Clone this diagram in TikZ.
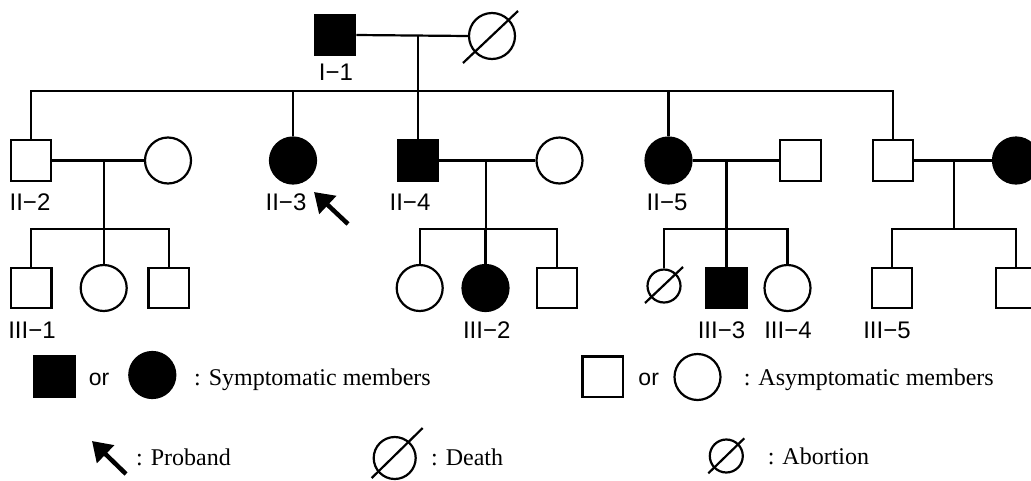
\documentclass[tikz,border=0pt]{standalone}
\usepackage{fontspec}
\setmainfont{Liberation Serif}
\setsansfont{Liberation Sans}
\usetikzlibrary{arrows.meta,calc}
\begin{document}
\begin{tikzpicture}[x=1pt,y=-1pt, line width=2.2pt,
  sq/.style={draw, rectangle, minimum size=40.5pt, inner sep=0pt},
  sqf/.style={sq, fill=black},
  ci/.style={draw, circle, minimum size=46pt, inner sep=0pt},
  cif/.style={ci, fill=black},
  ab/.style={draw, circle, minimum size=33pt, inner sep=0pt},
  lab/.style={font=\sffamily\fontsize{24}{24}\selectfont, anchor=base, inner sep=0pt},
  txt/.style={font=\fontsize{24}{24}\selectfont, anchor=base west, inner sep=0pt},
  orlab/.style={font=\sffamily\fontsize{23}{23}\selectfont, anchor=base, inner sep=0pt},
  proband/.style={line width=4.5pt, -{Triangle[width=24pt,length=19pt]}}
]
\useasboundingbox (0,0) rectangle (1031,480);
\clip (0,0) rectangle (1031,480);

% ---------- Generation I ----------
\node[sqf] (I1) at (335,35) {};
\node[ci] (I2) at (492,36) {};
\draw ($(I2)+(-29,27)$) -- ($(I2)+(26,-25)$);
\node[lab] (lI1) at (336,80) {I−1};
\coordinate (m0) at (418,36);
\coordinate (s0) at (418,91);
\draw (I1.east) -- (I2.west);
\draw (m0) -- (s0);

% ---------- Generation II ----------
\node[sq]  (II2) at (31,160.5) {};
\node[ci]  (W2)  at (168,160.5) {};
\node[cif] (II3) at (293,160.5) {};
\node[sqf] (II4) at (418,160.5) {};
\node[ci]  (W4)  at (559.5,160.5) {};
\node[cif] (II5) at (668.5,160.5) {};
\node[sq]  (H5)  at (800.5,160.5) {};
\node[sq]  (II6) at (893,160.5) {};
\node[cif] (W6)  at (1016,160.5) {};

\node[lab] (lII2) at (30,210) {II−2};
\node[lab] (lII3) at (286,210) {II−3};
\node[lab] (lII4) at (410,210) {II−4};
\node[lab] (lII5) at (667,210) {II−5};

\draw (II2.north) -- (II2.north |- s0) -- (II6.north |- s0) -- (II6.north);
\foreach \n in {II3,II4,II5} \draw (\n.north) -- (\n.north |- s0);

\coordinate (pa) at (348,224);
\coordinate (pb) at (314,192);
\draw[proband] (pa) -- (pb);

% marriages of generation II
\draw (II2.east) -- (W2.west);
\draw (II4.east) -- (W4.west);
\draw (II5.east) -- (H5.west);
\draw (II6.east) -- (W6.west);
\coordinate (m1) at (104,160.5);  \coordinate (s1) at (104,229);
\coordinate (m2) at (485.7,160.5); \coordinate (s2) at (485.7,229);
\coordinate (m3) at (726.5,160.5); \coordinate (s3) at (726.5,229);
\coordinate (m4) at (954.3,160.5); \coordinate (s4) at (954.3,229);
\draw (m1) -- (s1);
\draw (m2) -- (s2);
\draw (m3) -- (s3);
\draw (m4) -- (s4);

% ---------- Generation III ----------
\node[sq]  (III1) at (31.3,288) {};
\node[ci]  (C12)  at (103.7,288) {};
\node[sq]  (C13)  at (168.7,288) {};

\node[ci]  (C21)  at (419.7,288) {};
\node[cif] (III2) at (485.5,288) {};
\node[sq]  (C23)  at (557,288) {};

\node[ab]  (C31)  at (664,286) {};
\draw ($(C31)+(-19,17)$) -- ($(C31)+(19,-19)$);
\node[sqf] (III3) at (726.5,288) {};
\node[ci]  (III4) at (787.5,288) {};

\node[sq]  (III5) at (892,288) {};
\node[sq]  (C42)  at (1016,288) {};

\node[lab] (lIII1) at (32,338) {III−1};
\node[lab] (lIII2) at (486.7,338) {III−2};
\node[lab] (lIII3) at (721.5,338) {III−3};
\node[lab] (lIII4) at (788,338) {III−4};
\node[lab] (lIII5) at (887,338) {III−5};

\draw (III1.north) -- (III1.north |- s1) -- (C13.north |- s1) -- (C13.north);
\draw (C12.north) -- (C12.north |- s1);
\draw (C21.north) -- (C21.north |- s2) -- (C23.north |- s2) -- (C23.north);
\draw (III2.north) -- (III2.north |- s2);
\draw (C31.north) -- (C31.north |- s3) -- (III4.north |- s3) -- (III4.north);
\draw (III3.north) -- (III3.north |- s3);
\draw (III5.north) -- (III5.north |- s4) -- (C42.north |- s4) -- (C42.north);

% ---------- Legend ----------
\node[sqf] (Lsq) at (54.3,376.7) {};
\node[orlab] (Lor1) at (99,385) {or};
\node[cif] (Lci) at (152.3,375) {};
\node[txt] (Lt1) at (193,385) {: Symptomatic members};

\node[sq] (Lsq2) at (602.7,376.7) {};
\node[orlab] (Lor2) at (648.7,385) {or};
\node[ci] (Lci2) at (697.5,377) {};
\node[txt] (Lt2) at (742.7,385) {: Asymptomatic members};

\coordinate (qa) at (126,474);
\coordinate (qb) at (92,441);
\draw[proband] (qa) -- (qb);
\node[txt] (Lt3) at (135,465) {: Proband};

\node[draw, circle, minimum size=42pt, inner sep=0pt] (Ld) at (394.7,458) {};
\draw ($(Ld)+(-23,20)$) -- ($(Ld)+(28,-30)$);
\node[txt] (Lt4) at (430,465) {: Death};

\node[ab] (La) at (726.3,456) {};
\draw ($(La)+(-18,17.3)$) -- ($(La)+(18,-17.7)$);
\node[txt] (Lt5) at (766.7,464) {: Abortion};
\end{tikzpicture}
\end{document}
